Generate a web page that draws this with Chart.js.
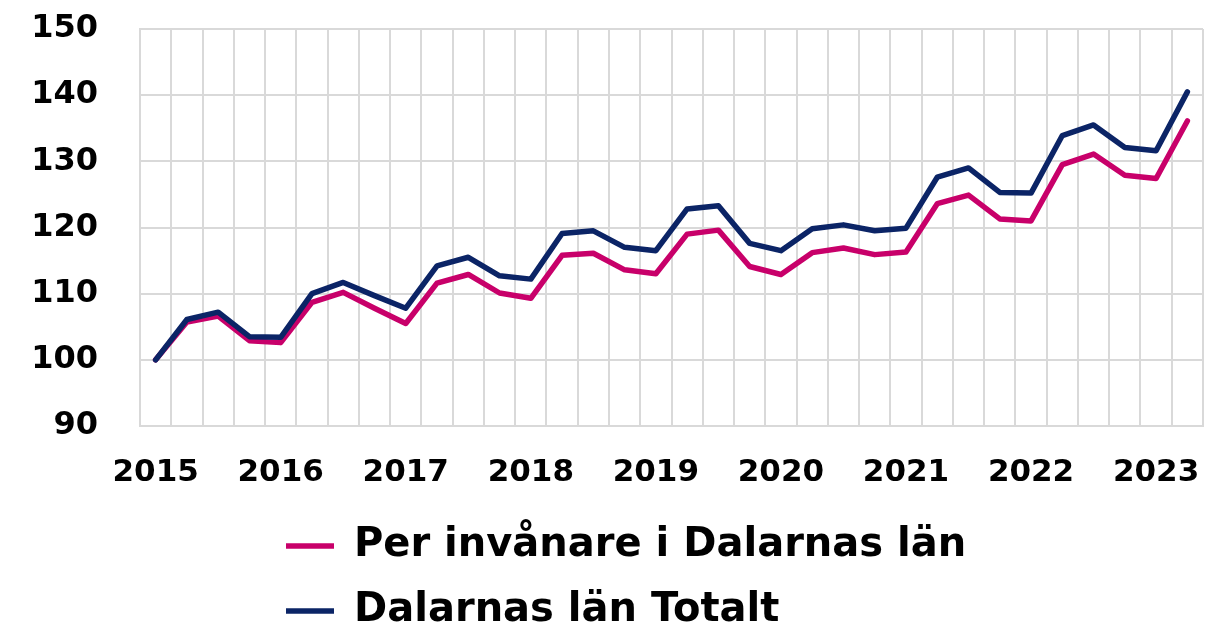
<!DOCTYPE html>
<html lang="sv">
<head>
    <meta charset="UTF-8">
    <title>Dalarnas län index</title>
    <script src="https://cdn.jsdelivr.net/npm/chart.js"></script>
    <style>
        html, body {
            margin: 0;
            padding: 0;
            background-color: #ffffff;
        }
        .wrap {
            width: 1207px;
            height: 630px;
        }
    </style>
</head>
<body>
    <div class="wrap">
        <canvas id="indexChart" width="1207" height="630"></canvas>
    </div>

    <script>
        // quarters 2015 K1 - 2023 K2
        const quarters = [
            '2015 K1', '2015 K2', '2015 K3', '2015 K4',
            '2016 K1', '2016 K2', '2016 K3', '2016 K4',
            '2017 K1', '2017 K2', '2017 K3', '2017 K4',
            '2018 K1', '2018 K2', '2018 K3', '2018 K4',
            '2019 K1', '2019 K2', '2019 K3', '2019 K4',
            '2020 K1', '2020 K2', '2020 K3', '2020 K4',
            '2021 K1', '2021 K2', '2021 K3', '2021 K4',
            '2022 K1', '2022 K2', '2022 K3', '2022 K4',
            '2023 K1', '2023 K2'
        ];

        const perInvanare = [
            100.0, 105.7, 106.6, 102.9, 102.6, 108.7, 110.2, 107.8,
            105.5, 111.6, 112.9, 110.1, 109.3, 115.8, 116.1, 113.6,
            113.0, 119.0, 119.6, 114.1, 112.9, 116.2, 116.9, 115.9,
            116.3, 123.6, 124.9, 121.3, 121.0, 129.5, 131.1, 127.9,
            127.4, 136.1
        ];

        const totalt = [
            100.0, 106.1, 107.2, 103.5, 103.4, 110.0, 111.7, 109.7,
            107.8, 114.2, 115.5, 112.7, 112.2, 119.1, 119.5, 117.0,
            116.5, 122.8, 123.3, 117.6, 116.5, 119.8, 120.4, 119.5,
            119.9, 127.6, 129.0, 125.3, 125.2, 133.9, 135.5, 132.1,
            131.6, 140.5
        ];

        const seriesNames = ['Per invånare i Dalarnas län', 'Dalarnas län Totalt'];
        const yTicks = [90, 100, 110, 120, 130, 140, 150];

        const fontFamily = '"DejaVu Sans", sans-serif';
        const gridColor = '#d9d9d9';

        // push the legend rows to the same left edge as in the original
        const legendPlacement = {
            id: 'legendPlacement',
            afterLayout(chart) {
                chart.legend.left = 261;
                chart.legend.top += 11;
            }
        };

        const ctx = document.getElementById('indexChart').getContext('2d');
        const indexChart = new Chart(ctx, {
            type: 'line',
            data: {
                labels: quarters,
                datasets: [{
                    label: seriesNames[0],
                    data: perInvanare,
                    borderColor: '#C8006A',
                    backgroundColor: '#C8006A',
                    borderWidth: 5.5,
                    borderCapStyle: 'round',
                    borderJoinStyle: 'round',
                    pointRadius: 0,
                    tension: 0,
                    fill: false,
                    order: 1
                }, {
                    label: seriesNames[1],
                    data: totalt,
                    borderColor: '#0B2466',
                    backgroundColor: '#0B2466',
                    borderWidth: 5.5,
                    borderCapStyle: 'round',
                    borderJoinStyle: 'round',
                    pointRadius: 0,
                    tension: 0,
                    fill: false,
                    order: 0
                }]
            },
            options: {
                animation: false,
                responsive: false,
                layout: {
                    padding: { top: 29, right: 4, left: 0, bottom: 0 }
                },
                plugins: {
                    tooltip: { enabled: false },
                    legend: {
                        position: 'bottom',
                        align: 'start',
                        fullSize: false,
                        labels: {
                            usePointStyle: true,
                            pointStyle: 'line',
                            pointStyleWidth: 48,
                            padding: 25,
                            color: '#000000',
                            font: { family: fontFamily, size: 40, weight: 'bold' },
                            sort: (a, b) => a.datasetIndex - b.datasetIndex
                        }
                    }
                },
                scales: {
                    x: {
                        offset: true,
                        grid: {
                            offset: true,
                            color: gridColor,
                            lineWidth: 2,
                            drawTicks: false
                        },
                        border: { color: gridColor, width: 2 },
                        ticks: {
                            autoSkip: false,
                            maxRotation: 0,
                            padding: 28,
                            color: '#000000',
                            font: { family: fontFamily, size: 31, weight: 'bold' },
                            callback: function (value) {
                                const q = quarters[value];
                                return q.endsWith('K1') ? q.slice(0, 4) : '';
                            }
                        },
                        afterFit: (scale) => {
                            scale.height = 64;
                            scale.paddingLeft = 0;
                            scale.paddingRight = 0;
                        }
                    },
                    y: {
                        min: yTicks[0],
                        max: yTicks[yTicks.length - 1],
                        grid: {
                            color: gridColor,
                            lineWidth: 2,
                            drawTicks: false
                        },
                        border: { color: gridColor, width: 2 },
                        ticks: {
                            stepSize: 10,
                            padding: 42,
                            color: '#000000',
                            font: { family: fontFamily, size: 32, weight: 'bold' }
                        },
                        afterFit: (scale) => {
                            scale.width = 140;
                            // the label gap should not push the plot down
                            scale.paddingTop = 19;
                            scale.paddingBottom = 19;
                        }
                    }
                }
            },
            plugins: [legendPlacement]
        });
    </script>
</body>
</html>
